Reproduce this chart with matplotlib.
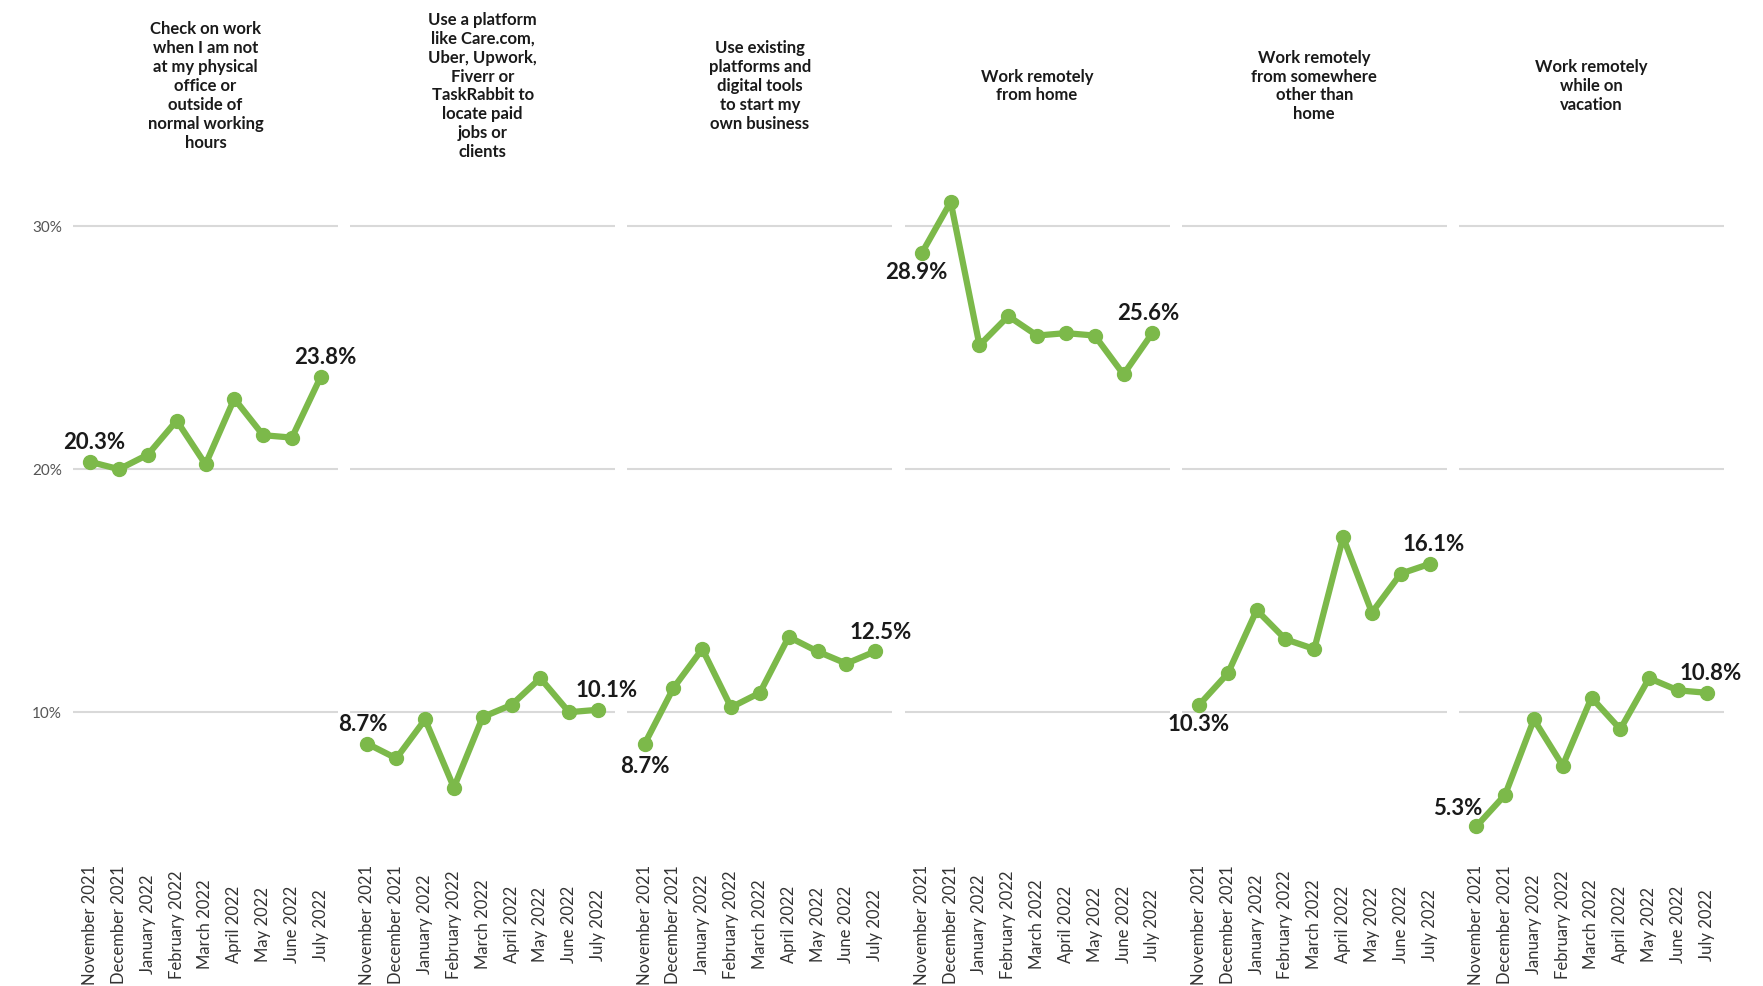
import matplotlib.pyplot as plt

plt.rcParams['font.family'] = ['Lato', 'DejaVu Sans']

months = ['November 2021', 'December 2021', 'January 2022', 'February 2022',
          'March 2022', 'April 2022', 'May 2022', 'June 2022', 'July 2022']

titles = [
    'Check on work\nwhen I am not\nat my physical\noffice or\noutside of\nnormal working\nhours',
    'Use a platform\nlike Care.com,\nUber, Upwork,\nFiverr or\nTaskRabbit to\nlocate paid\njobs or\nclients',
    'Use existing\nplatforms and\ndigital tools\nto start my\nown business',
    'Work remotely\nfrom home',
    'Work remotely\nfrom somewhere\nother than\nhome',
    'Work remotely\nwhile on\nvacation',
]

check_on_work = [20.3, 20.0, 20.6, 22.0, 20.2, 22.9, 21.4, 21.3, 23.8]
platform_jobs = [8.7, 8.1, 9.7, 6.9, 9.8, 10.3, 11.4, 10.0, 10.1]
own_business = [8.7, 11.0, 12.6, 10.2, 10.8, 13.1, 12.5, 12.0, 12.5]
remote_home = [28.9, 31.0, 25.1, 26.3, 25.5, 25.6, 25.5, 23.9, 25.6]
remote_elsewhere = [10.3, 11.6, 14.2, 13.0, 12.6, 17.2, 14.1, 15.7, 16.1]
remote_vacation = [5.3, 6.6, 9.7, 7.8, 10.6, 9.3, 11.4, 10.9, 10.8]

series = [check_on_work, platform_jobs, own_business,
          remote_home, remote_elsewhere, remote_vacation]

# label offsets (points) for first / last value: +above, -below
first_off = [(3, 14), (-3, 14), (0, -16), (-4, -14), (0, -14), (-13, 13)]
last_off = [(3, 14), (6, 14), (4, 14), (-3, 14), (3, 14), (3, 14)]

green = '#7cb94a'
W, H = 1763, 986
fig = plt.figure(figsize=(W / 100, H / 100), dpi=100)
fig.patch.set_facecolor('white')

left0, pitch, width = 73, 277.2, 265
bottom_px, top_px = 858, 129

for i, vals in enumerate(series):
    ax = fig.add_axes([(left0 + i * pitch) / W, 1 - bottom_px / H,
                       width / W, (bottom_px - top_px) / H])
    ax.patch.set_visible(False)
    x = list(range(len(months)))
    ax.plot(x, vals, color=green, lw=4.5, marker='o', ms=10,
            solid_joinstyle='round', solid_capstyle='round', zorder=3)
    ax.set_xlim(-0.6, 8.6)
    ax.set_ylim(4, 34)
    ax.set_yticks([10, 20, 30])
    ax.grid(axis='y', color='#d9d9d9', lw=1.5)
    ax.set_axisbelow(True)
    for s in ax.spines.values():
        s.set_visible(False)
    ax.set_xticks(x)
    ax.set_xticklabels(months, rotation=90, fontsize=12, color='#333333')
    for lab in ax.get_xticklabels():
        lab.set_va('center')
    ax.tick_params(axis='x', length=0, pad=48)
    if i == 0:
        ax.set_yticklabels(['10%', '20%', '30%'], fontsize=11, color='#555555')
        ax.tick_params(axis='y', length=0, pad=8)
    else:
        ax.tick_params(axis='y', length=0, labelleft=False)

    ax.annotate(f'{vals[0]:.1f}%', (0, vals[0]), xytext=first_off[i],
                textcoords='offset points', ha='center', va='center',
                fontsize=16, fontweight='bold', color='#1a1a1a', zorder=5)
    ax.annotate(f'{vals[-1]:.1f}%', (8, vals[-1]), xytext=last_off[i],
                textcoords='offset points', ha='center', va='center',
                fontsize=16, fontweight='bold', color='#1a1a1a', zorder=5)

    fig.text((left0 + i * pitch + width / 2) / W, 1 - 86 / H, titles[i],
             ha='center', va='center', fontsize=12, fontweight='bold',
             color='#1a1a1a', linespacing=1.22)

fig.savefig('out.png', dpi=100, facecolor='white')
